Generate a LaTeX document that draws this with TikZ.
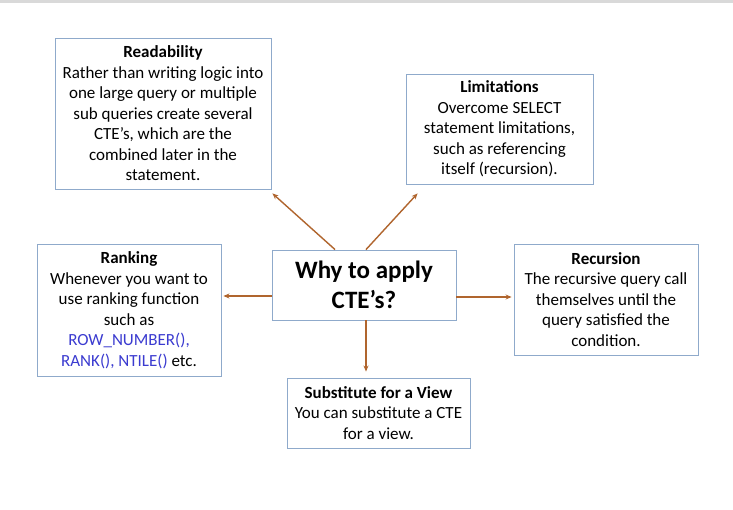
\documentclass[tikz,border=0pt]{standalone}
\usepackage{fontspec}
\setmainfont{Carlito}
\usetikzlibrary{arrows.meta}
\definecolor{boxline}{HTML}{8FAACB}
\definecolor{arr}{HTML}{B0652E}
\definecolor{codeblue}{HTML}{3B3BD0}
\definecolor{topbar}{HTML}{D9D9D9}
\begin{document}
\begin{tikzpicture}[x=1pt,y=-1pt,
  box/.style={draw=boxline, line width=0.9pt, fill=white, align=center, inner sep=0pt,
    font=\fontsize{17}{20.5}\selectfont},
  conn/.style={draw=arr, line width=1.4pt, -{Stealth[length=6pt,width=5pt]}}]
\useasboundingbox (0,0) rectangle (733,510);
\fill[white] (0,0) rectangle (733,510);
\fill[topbar] (0,0) rectangle (733,3);
\node[box, minimum width=216pt, minimum height=151pt] (r) at (163,113.5)
  {\textbf{Readability}\\Rather than writing logic into\\one large query or multiple\\sub queries create several\\CTE’s, which are the\\combined later in the\\statement.};
\node[box, minimum width=187pt, minimum height=110pt] (l) at (499.5,129)
  {\textbf{Limitations}\\Overcome SELECT\\statement limitations,\\such as referencing\\itself (recursion).};
\node[box, minimum width=184pt, minimum height=70pt, font=\fontsize{25}{30}\selectfont\bfseries] (c) at (364,285)
  {Why to apply\\CTE’s?};
\node[box, minimum width=184pt, minimum height=132pt] (k) at (129,310)
  {\textbf{Ranking}\\Whenever you want to\\use ranking function\\such as\\\textcolor{codeblue}{ROW\_NUMBER(),}\\\textcolor{codeblue}{RANK(), NTILE()} etc.};
\node[box, minimum width=184pt, minimum height=111pt] (q) at (606,299.5)
  {\textbf{Recursion}\\The recursive query call\\themselves until the\\query satisfied the\\condition.};
\node[box, minimum width=183pt, minimum height=70pt] (s) at (378.5,413)
  {\textbf{Substitute for a View}\\You can substitute a CTE\\for a view.};
\draw[conn] ([xshift=-29pt]c.north) -- ([xshift=1pt,yshift=-4pt]r.south east);
\draw[conn] ([xshift=2pt]c.north) -- ([xshift=12pt,yshift=-9pt]l.south west);
\draw[conn] ([yshift=-11pt]c.west) -- ([xshift=2pt,yshift=14pt]k.east);
\draw[conn] ([yshift=-12pt]c.east) -- ([xshift=-2pt,yshift=2.5pt]q.west);
\draw[conn] ([xshift=2pt]c.south) -- ([xshift=-12.5pt,yshift=6pt]s.north);
\end{tikzpicture}
\end{document}
